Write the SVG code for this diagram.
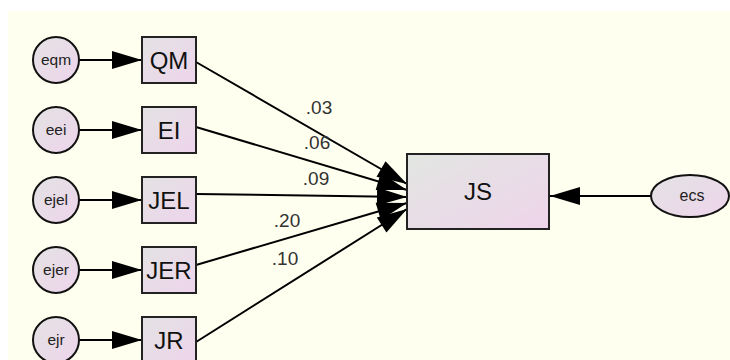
<svg xmlns="http://www.w3.org/2000/svg" width="730" height="360" viewBox="0 0 730 360">
<defs>
<linearGradient id="g" x1="0" y1="0" x2="1" y2="1">
<stop offset="0" stop-color="#e3e3e3"/>
<stop offset="1" stop-color="#eed4ec"/>
</linearGradient>
<linearGradient id="gjs" x1="0" y1="0" x2="1" y2="1">
<stop offset="0" stop-color="#e2e6e2"/>
<stop offset="1" stop-color="#eed4ea"/>
</linearGradient>
<marker id="ah" markerUnits="userSpaceOnUse" markerWidth="30" markerHeight="18" refX="30" refY="9" orient="auto" overflow="visible">
<path d="M0,0 L30,9 L0,18 z" fill="#000"/>
</marker>
<style>
.c{fill:url(#g);stroke:#111;stroke-width:2}
.b{fill:url(#g);stroke:#222;stroke-width:2}
.e{stroke:#000;stroke-width:2;fill:none;marker-end:url(#ah)}
.tc{font-family:"Liberation Sans",Arial,sans-serif;font-size:15.5px;fill:#222;text-anchor:middle}
.tb{font-family:"Liberation Sans",Arial,sans-serif;font-size:24px;fill:#111;text-anchor:middle}
.tl{font-family:"Liberation Sans",Arial,sans-serif;font-size:19px;fill:#333;text-anchor:middle}
</style>
</defs>
<rect x="0" y="0" width="730" height="360" fill="#ffffff"/>
<rect x="8" y="11" width="722" height="349" fill="#fffff0"/>
<g id="connectors">
<line class="e" x1="79" y1="60" x2="142" y2="60"/>
<line class="e" x1="79" y1="130" x2="142" y2="130"/>
<line class="e" x1="79" y1="200" x2="142" y2="200"/>
<line class="e" x1="79" y1="270" x2="142" y2="270"/>
<line class="e" x1="79" y1="340" x2="142" y2="340"/>
<line class="e" x1="196" y1="62" x2="407" y2="184"/>
<line class="e" x1="196" y1="127" x2="407" y2="190"/>
<line class="e" x1="196" y1="194" x2="407" y2="197"/>
<line class="e" x1="196" y1="265" x2="407" y2="203"/>
<line class="e" x1="196" y1="342" x2="407" y2="209"/>
<line class="e" x1="651" y1="196" x2="550" y2="196"/>
<text class="tl" x="319" y="114">.03</text>
<text class="tl" x="317" y="149">.06</text>
<text class="tl" x="316" y="185">.09</text>
<text class="tl" x="287" y="227">.20</text>
<text class="tl" x="285" y="265">.10</text>
</g>
<g id="eqm"><circle class="c" cx="56" cy="60" r="23"/><text class="tc" x="56" y="65">eqm</text></g>
<g id="eei"><circle class="c" cx="56" cy="130" r="23"/><text class="tc" x="56" y="135">eei</text></g>
<g id="ejel"><circle class="c" cx="56" cy="200" r="23"/><text class="tc" x="56" y="205">ejel</text></g>
<g id="ejer"><circle class="c" cx="56" cy="270" r="23"/><text class="tc" x="56" y="275">ejer</text></g>
<g id="ejr"><circle class="c" cx="56" cy="340" r="23"/><text class="tc" x="56" y="345">ejr</text></g>
<g id="QM"><rect class="b" x="142" y="37" width="54" height="46"/><text class="tb" x="169" y="69">QM</text></g>
<g id="EI"><rect class="b" x="142" y="107" width="54" height="46"/><text class="tb" x="169" y="139">EI</text></g>
<g id="JEL"><rect class="b" x="142" y="177" width="54" height="46"/><text class="tb" x="169" y="209">JEL</text></g>
<g id="JER"><rect class="b" x="142" y="247" width="54" height="46"/><text class="tb" x="169" y="279">JER</text></g>
<g id="JR"><rect class="b" x="142" y="317" width="54" height="46"/><text class="tb" x="169" y="349">JR</text></g>
<g id="JS"><rect x="407" y="154" width="142" height="75" fill="url(#gjs)" stroke="#222" stroke-width="2"/><text class="tb" x="478" y="200">JS</text></g>
<g id="ecs"><ellipse class="c" cx="690" cy="196" rx="39" ry="21"/><text class="tc" x="692" y="201" style="font-size:16px">ecs</text></g>
</svg>
